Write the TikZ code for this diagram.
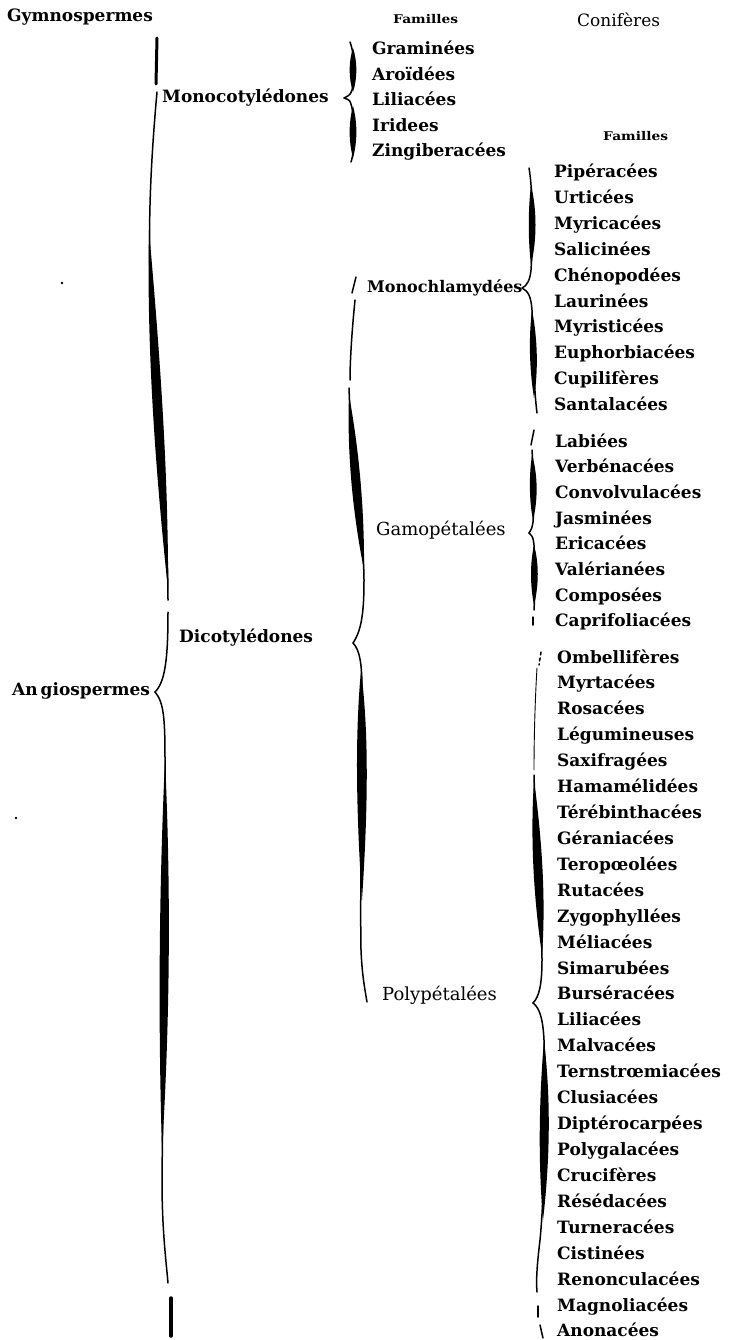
\documentclass[tikz,border=0pt]{standalone}
\usepackage{fontspec}
\setmainfont{DejaVu Serif}
\newfontfamily\famfont[FakeStretch=1.15]{DejaVu Serif}
\usetikzlibrary{positioning}
\newcommand{\swell}[4]{\fill #1 .. controls #3 .. #2 .. controls #4 .. #1;}
\tikzset{
  fam/.style={anchor=base west,inner sep=0pt,font=\bfseries\fontsize{17}{20}\selectfont},
  group/.style={fam},
  lightgroup/.style={anchor=base west,inner sep=0pt,font=\fontsize{18}{20}\selectfont},
  head/.style={anchor=base west,inner sep=0pt,font=\famfont\bfseries\fontsize{12}{13}\selectfont},
  stem/.style={line width=1.5pt,line cap=round},
  bar/.style={line width=3pt,line cap=round}
}

\begin{document}
\begin{tikzpicture}[x=1pt,y=-1pt]
\useasboundingbox (0,0) rectangle (728,1340);

\node[group] (gymno) at (7,22) {Gymnospermes};
\node[head] (fam1) at (393,24) {Familles};
\node[lightgroup,font=\fontsize{17}{20}\selectfont] (conif) at (577,27) {Conifères};
\node[head] (fam2) at (603,141) {Familles};
\node[group] (angio) at (12,695) {An\kern3pt giospermes};
\node[group] (monocot) at (162,103) {Monocotylédones};
\node[group] (dicot) at (179,642) {Dicotylédones};
\node[group,font=\bfseries\fontsize{16}{20}\selectfont] (monochl) at (367,292) {Monochlamydées};
\node[lightgroup] (gamo) at (376,535) {Gamopétalées};
\node[lightgroup] (poly) at (382,1000) {Polypétalées};

\foreach \f [count=\i from 0] in {Graminées,Aroïdées,Liliacées,Iridees,Zingiberacées}
  \node[fam] (mono\i) at (372,55+25.5*\i) {\f};
\foreach \f [count=\i from 0] in {Pipéracées,Urticées,Myricacées,Salicinées,Chénopodées,
  Laurinées,Myristicées,Euphorbiacées,Cupilifères,Santalacées}
  \node[fam] (chl\i) at (554,178+25.8*\i) {\f};
\foreach \f [count=\i from 0] in {Labiées,Verbénacées,Convolvulacées,Jasminées,Ericacées,
  Valérianées,Composées,Caprifoliacées}
  \node[fam] (gam\i) at (555,447+25.7*\i) {\f};
\foreach \f [count=\i from 0] in {Ombellifères,Myrtacées,Rosacées,Légumineuses,Saxifragées,
  Hamamélidées,Térébinthacées,Géraniacées,Teropœolées,Rutacées,Zygophyllées,Méliacées,
  Simarubées,Burséracées,Liliacées,Malvacées,Ternstrœmiacées,Clusiacées,Diptérocarpées,
  Polygalacées,Crucifères,Résédacées,Turneracées,Cistinées,Renonculacées,Magnoliacées,Anonacées}
  \node[fam] (pol\i) at (557,663+25.92*\i) {\f};

\coordinate (angio tip) at (155,692);
\coordinate (mono tip) at (344,98);
\coordinate (dicot tip) at (353,643);
\coordinate (chl tip) at (522,288);
\coordinate (gam tip) at (529,533);
\coordinate (pol tip) at (533,1003);

% Angiospermes
\draw[bar] (157,38) -- (156,84);
\draw[stem] (157,92) .. controls (150,170) and (147,240) .. (152,320) .. controls (157,420) and (168,520) .. (168,600);
\swell{(149,230)}{(168,590)}{(159.5,350) and (168.5,470)}{(155.5,470) and (146.5,350)}
\draw[stem] (168,612) .. controls (168,660) and (165,682) .. (angio tip);
\draw[stem] (angio tip) .. controls (164,702) and (165,720) .. (165,760) .. controls (166,900) and (163,1080) .. (162,1180) .. controls (162,1230) and (166,1260) .. (168,1283);
\swell{(165,760)}{(162,1150)}{(171,890) and (170,1020)}{(158,1020) and (159,890)}
\draw[bar,line width=3.5pt] (171,1298) -- (171,1336);

% Monocotyledones
\draw[stem] (350,42) .. controls (355,55) and (355,80) .. (352,90) .. controls (350,95) .. (mono tip);
\draw[stem] (mono tip) .. controls (350,100) .. (352,108) .. controls (355,125) and (355,150) .. (351,162);
\swell{(353,48)}{(353,92)}{(357.5,62) and (357.5,78)}{(348.5,78) and (348.5,62)}
\swell{(353,106)}{(353,158)}{(357.5,123) and (357.5,141)}{(348.5,141) and (348.5,123)}

% Dicotyledones
\draw[stem] (352,293) -- (356,277);
\draw[stem] (355,300) .. controls (352,330) and (350,360) .. (350,380);
\draw[stem] (349,388) .. controls (352,470) and (364,540) .. (364,580) .. controls (364,610) and (362,630) .. (dicot tip);
\swell{(349,395)}{(364,570)}{(359.5,453) and (364.5,512)}{(352.5,512) and (347,453)}
\draw[stem] (dicot tip) .. controls (360,650) and (362,665) .. (362,690) .. controls (362,800) and (360,900) .. (361,950) .. controls (362,975) and (365,990) .. (367,1002);
\swell{(361,670)}{(362,900)}{(368.5,730) and (368.5,800)}{(355.5,800) and (355.5,730)}

% Monochlamydees
\draw[stem] (529,168) .. controls (533,190) and (533,240) .. (531,270) .. controls (530,280) and (527,286) .. (chl tip);
\draw[stem] (chl tip) .. controls (528,291) and (531,296) .. (532,310) .. controls (533,350) and (534,390) .. (537,413);
\swell{(531,185)}{(531,265)}{(537,210) and (537,240)}{(528,240) and (528,210)}
\swell{(532,310)}{(534,398)}{(537.5,338) and (538.5,370)}{(529.5,370) and (528.5,338)}

% Gamopetalees
\draw[stem] (531,445) -- (534,430);
\draw[stem] (532,450) .. controls (534,480) and (534,510) .. (533,522) .. controls (532,528) .. (gam tip);
\draw[stem] (gam tip) .. controls (533,537) .. (534,545) .. controls (535,570) and (535,595) .. (534,610);
\draw[stem] (533,617) -- (533,625);
\swell{(532,455)}{(533,520)}{(538,475) and (538,500)}{(529,500) and (529,475)}
\swell{(534,545)}{(534,605)}{(539,563) and (539,585)}{(530,585) and (530,563)}

% Polypetalees
\draw[stem,dashed] (541,652) -- (539,665);
\draw[stem,line width=0.9pt] (537,668) .. controls (535,700) and (534,740) .. (534,770);
\draw[stem] (534,775) .. controls (536,850) and (542,920) .. (542,960) .. controls (542,985) and (539,997) .. (pol tip);
\swell{(534,780)}{(542,955)}{(542,840) and (546,900)}{(534,900) and (530,840)}
\draw[stem] (pol tip) .. controls (540,1008) and (543,1020) .. (544,1040) .. controls (546,1120) and (544,1200) .. (540,1240) .. controls (537,1265) and (536,1280) .. (537,1292);
\swell{(544,1040)}{(543,1220)}{(551,1100) and (550,1160)}{(538,1160) and (539,1100)}
\draw[stem] (538,1306) -- (538,1317);
\draw[stem] (540,1325) -- (543,1338);

\fill (62,283) circle (1.3);
\fill (16,818) circle (1.3);
\end{tikzpicture}
\end{document}
